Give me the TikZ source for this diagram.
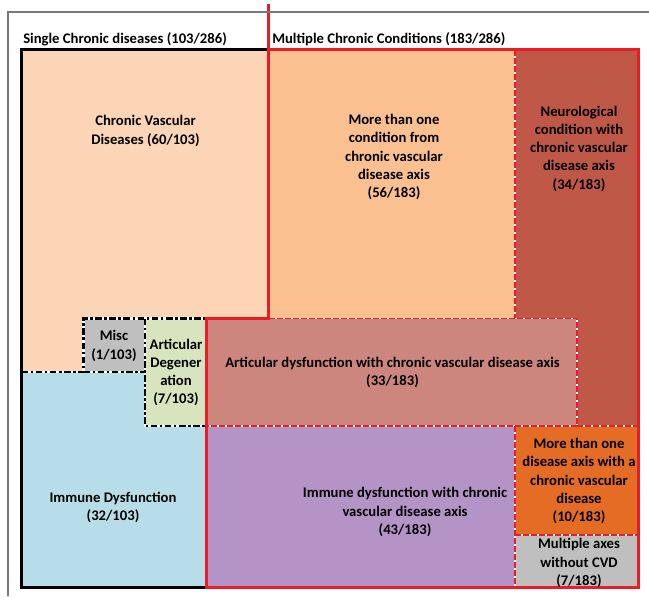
\documentclass[tikz,border=0pt]{standalone}
\usepackage{fontspec}
\setmainfont{Carlito}
\definecolor{cvdpeach}{RGB}{251,213,181}
\definecolor{multipeach}{RGB}{250,192,144}
\definecolor{neurored}{RGB}{192,88,72}
\definecolor{artdysred}{RGB}{204,134,126}
\definecolor{immblue}{RGB}{183,222,232}
\definecolor{immpurple}{RGB}{180,148,198}
\definecolor{axisorange}{RGB}{228,108,36}
\definecolor{boxgray}{RGB}{191,191,191}
\definecolor{degreen}{RGB}{215,228,189}
\definecolor{framegray}{RGB}{120,120,120}
\definecolor{mcred}{RGB}{237,28,36}
\begin{document}
\begin{tikzpicture}[x = 0.75pt, y = -0.75pt,
	lbl/.style = {inner sep = 0pt, align = center, font = \fontsize{11}{13.7}\selectfont\bfseries},
	reddash/.style = {preaction = {draw = white, line width = 1.4pt}, draw = mcred, line width = 1.4pt, dash pattern = on 4.5pt off 1.5pt},
	blkdash/.style = {preaction = {draw = white, line width = 1.7pt}, draw = black, line width = 1.7pt, dash pattern = on 5pt off 1.8pt on 2pt off 1.8pt}]
	\useasboundingbox (0,0) rectangle (649,596);
	% single chronic diseases
	\draw[draw = none, fill = cvdpeach] (21.5,49.5) rectangle (268.5,372);
	\draw[draw = none, fill = immblue] (21.5,372) rectangle (206.5,587.5);
	\draw[draw = none, fill = boxgray] (83.5,318.5) rectangle (145,372);
	\draw[draw = none, fill = degreen] (145,318.5) rectangle (206.5,426);
	% multiple chronic conditions
	\draw[draw = none, fill = multipeach] (268.5,49.5) rectangle (515,318.5);
	\draw[draw = none, fill = neurored] (515,49.5) rectangle (638.5,426);
	\draw[draw = none, fill = artdysred] (206.5,318.5) rectangle (577,426);
	\draw[draw = none, fill = immpurple] (206.5,426) rectangle (515,587.5);
	\draw[draw = none, fill = axisorange] (515,426) rectangle (638.5,535);
	\draw[draw = none, fill = boxgray] (515,535) rectangle (638.5,587.5);
	% inner borders
	\draw[reddash] (515,49.5) -- (515,318.5);
	\draw[reddash] (206.5,318.5) rectangle (577,426);
	\draw[reddash] (577,426) -- (638.5,426);
	\draw[reddash] (515,426) -- (515,587.5);
	\draw[reddash] (515,535) -- (638.5,535);
	\draw[blkdash] (21.5,372) -- (83.5,372) -- (83.5,318.5) -- (206.5,318.5);
	\draw[blkdash] (83.5,372) -- (145,372);
	\draw[blkdash] (145,318.5) -- (145,426) -- (206.5,426);
	% outer borders
	\draw[draw = black, line width = 2.6pt] (206.5,587.5) -- (21.5,587.5) -- (21.5,49.5) -- (268.5,49.5);
	\draw[draw = mcred, line width = 2.3pt] (268.5,49.5) -- (638.5,49.5) -- (638.5,587.5) -- (206.5,587.5) -- (206.5,318.5) -- (268.5,318.5) -- cycle;
	\draw[draw = mcred, line width = 2.3pt] (268.5,4) -- (268.5,49.5);
	% frame
	\draw[draw = framegray, line width = 1.6pt] (8,596) -- (8,12) -- (649,12);
	% labels
	\node[lbl, anchor = west] (single) at (23,39) {Single Chronic diseases (103/286)};
	\node[lbl, anchor = west] (multiple) at (272,39) {Multiple Chronic Conditions (183/286)};
	\node[lbl] (cvd) at (145.5,131) {Chronic Vascular\\Diseases (60/103)};
	\node[lbl] (morecond) at (394,157) {More than one\\condition from\\chronic vascular\\disease axis\\(56/183)};
	\node[lbl] (neuro) at (579,148.5) {Neurological\\condition with\\chronic vascular\\disease axis\\(34/183)};
	\node[lbl] (misc) at (114,346) {Misc\\(1/103)};
	\node[lbl] (artdeg) at (176,372.5) {Articular\\Degener\\ation\\(7/103)};
	\node[lbl] (artdys) at (392.5,372.5) {Articular dysfunction with chronic vascular disease axis\\(33/183)};
	\node[lbl] (immune) at (113,507.5) {Immune Dysfunction\\(32/103)};
	\node[lbl] (immcvd) at (405,512) {Immune dysfunction with chronic\\vascular disease axis\\(43/183)};
	\node[lbl] (moreaxis) at (579,481) {More than one\\disease axis with a\\chronic vascular\\disease\\(10/183)};
	\node[lbl] (noncvd) at (579,563) {Multiple axes\\without CVD\\(7/183)};
\end{tikzpicture}
\end{document}
